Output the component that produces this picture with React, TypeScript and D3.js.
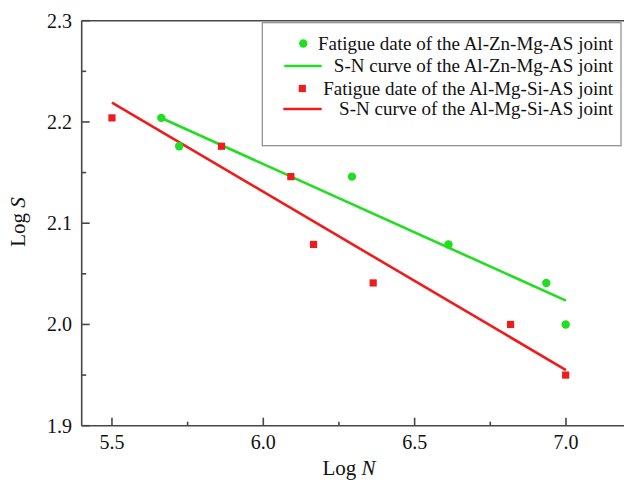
import React from "react";
import * as d3 from "d3";

const greenN = [5.663, 5.722, 6.293, 6.612, 6.935, 6.999];
const greenS = [2.204, 2.176, 2.146, 2.079, 2.041, 2.0];
const redN = [5.5, 5.862, 6.091, 6.166, 6.363, 6.817, 6.999];
const redS = [2.204, 2.176, 2.146, 2.079, 2.041, 2.0, 1.95];
const greenFitN = [5.665, 7.0];
const greenFitS = [2.2036, 2.0235];
const redFitN = [5.5, 7.0];
const redFitS = [2.219, 1.955];
const xTicks = [5.5, 6.0, 6.5, 7.0];
const xMinor = [5.75, 6.25, 6.75];
const yTicks = [1.9, 2.0, 2.1, 2.2, 2.3];
const yMinor = [1.95, 2.05, 2.15, 2.25];
const legendLabels = [
  "Fatigue date of the Al-Zn-Mg-AS joint",
  "S-N curve of the Al-Zn-Mg-AS joint",
  "Fatigue date of the Al-Mg-Si-AS joint",
  "S-N curve of the Al-Mg-Si-AS joint",
];

const GREEN = "#22dd22";
const RED = "#ee1c1c";
const AXIS = "#474747";
const FONT = "'Liberation Serif', 'Times New Roman', serif";

export default function App() {
  const left = 81.7, right = 626.5, top = 20.7, bottom = 425.7;
  const x = d3.scaleLinear().domain([5.4, 7.2]).range([left, right]);
  const y = d3.scaleLinear().domain([1.9, 2.3]).range([bottom, top]);
  const line = d3.line<[number, number]>().x((d) => x(d[0])).y((d) => y(d[1]));
  const gFit = line(greenFitN.map((n, i) => [n, greenFitS[i]]) as [number, number][]) || "";
  const rFit = line(redFitN.map((n, i) => [n, redFitS[i]]) as [number, number][]) || "";
  const rowY = [43.5, 66, 88.5, 109];

  return (
    <svg width={624} height={484} style={{ position: "absolute", left: 0, top: 0, background: "#fff" }} fontFamily={FONT}>
      <rect x={0} y={0} width={624} height={484} fill="#fff" />
      {/* frame */}
      <line x1={left} x2={left} y1={top} y2={bottom} stroke={AXIS} strokeWidth={1.6} />
      <line x1={left} x2={630} y1={bottom} y2={bottom} stroke={AXIS} strokeWidth={1.6} />
      <line x1={left} x2={630} y1={top} y2={top} stroke={AXIS} strokeWidth={1.6} />
      {/* x ticks */}
      {xTicks.map((t) => (
        <g key={"xt" + t}>
          <line x1={x(t)} x2={x(t)} y1={bottom} y2={bottom - 8} stroke={AXIS} strokeWidth={1.6} />
          <text x={x(t)} y={449} textAnchor="middle" fontSize={20} fill="#111">{t.toFixed(1)}</text>
        </g>
      ))}
      {xMinor.map((t) => (
        <line key={"xm" + t} x1={x(t)} x2={x(t)} y1={bottom} y2={bottom - 4} stroke={AXIS} strokeWidth={1.6} />
      ))}
      {/* y ticks */}
      {yTicks.map((t) => (
        <g key={"yt" + t}>
          <line x1={left} x2={left + 8} y1={y(t)} y2={y(t)} stroke={AXIS} strokeWidth={1.6} />
          <text x={72} y={y(t) + 7} textAnchor="end" fontSize={20} fill="#111">{t.toFixed(1)}</text>
        </g>
      ))}
      {yMinor.map((t) => (
        <line key={"ym" + t} x1={left} x2={left + 4.5} y1={y(t)} y2={y(t)} stroke={AXIS} strokeWidth={1.6} />
      ))}
      {/* titles */}
      <text x={349} y={475} textAnchor="middle" fontSize={21} fill="#111">
        Log <tspan fontStyle="italic">N</tspan>
      </text>
      <text transform={`translate(25,222) rotate(-90)`} textAnchor="middle" fontSize={21} fill="#111">
        Log <tspan fontStyle="italic">S</tspan>
      </text>
      {/* fits */}
      <path d={gFit} stroke={GREEN} strokeWidth={2.6} fill="none" />
      <path d={rFit} stroke={RED} strokeWidth={2.6} fill="none" />
      {/* points */}
      {greenN.map((n, i) => (
        <circle key={"g" + i} cx={x(n)} cy={y(greenS[i])} r={4.2} fill={GREEN} />
      ))}
      {redN.map((n, i) => (
        <rect key={"r" + i} x={x(n) - 3.6} y={y(redS[i]) - 3.6} width={7.2} height={7.2} fill={RED} />
      ))}
      {/* legend */}
      <rect x={262.3} y={22.7} width={358.7} height={123} fill="#fff" stroke="#8a8a8a" strokeWidth={1.2} />
      <circle cx={303.3} cy={rowY[0]} r={4.2} fill={GREEN} />
      <line x1={284.3} x2={321.7} y1={rowY[1]} y2={rowY[1]} stroke={GREEN} strokeWidth={2.6} />
      <rect x={302.3 - 3.6} y={rowY[2] - 3.6} width={7.2} height={7.2} fill={RED} />
      <line x1={283.3} x2={321.7} y1={rowY[3]} y2={rowY[3]} stroke={RED} strokeWidth={2.6} />
      {legendLabels.map((s, i) => (
        <text key={"l" + i} x={613} y={rowY[i] + 6} textAnchor="end" fontSize={19} fill="#111">{s}</text>
      ))}
    </svg>
  );
}
